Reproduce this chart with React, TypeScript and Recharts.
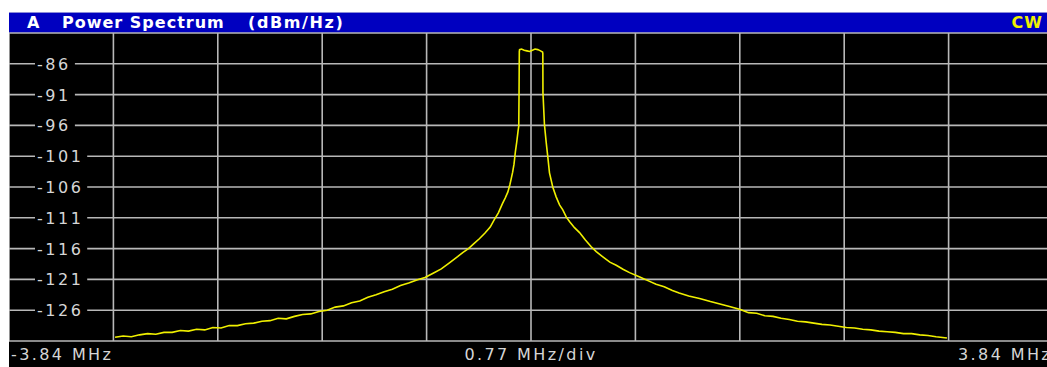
import { LineChart, Line, XAxis, YAxis, CartesianGrid } from "recharts";

// trace (MHz offset from centre, dBm/Hz)
const freqMHz = [
  -3.06, -3.0, -2.94, -2.88, -2.82, -2.76, -2.7, -2.64, -2.58, -2.52,
  -2.46, -2.4, -2.34, -2.28, -2.22, -2.16, -2.1, -2.04, -1.98, -1.92,
  -1.86, -1.8, -1.74, -1.68, -1.62, -1.56, -1.5, -1.44, -1.38, -1.32,
  -1.26, -1.2, -1.14, -1.08, -1.02, -0.96, -0.9, -0.84, -0.78, -0.72,
  -0.66, -0.6, -0.54, -0.5, -0.46, -0.42, -0.38, -0.34, -0.3, -0.27,
  -0.24, -0.21, -0.19, -0.17, -0.155, -0.145, -0.135, -0.125, -0.115, -0.105,
  -0.095, -0.09, -0.088, -0.086, -0.084,
  -0.07, -0.05, -0.03, -0.01, 0.01, 0.03, 0.05, 0.07, 0.085,
  0.087, 0.088, 0.099, 0.112, 0.124, 0.136, 0.16, 0.185, 0.21, 0.234,
  0.26, 0.283, 0.32, 0.357, 0.4, 0.443, 0.48, 0.526, 0.58, 0.627,
  0.68, 0.725, 0.8, 0.86, 0.92, 0.98, 1.04, 1.09, 1.16, 1.24,
  1.32, 1.39, 1.46, 1.54, 1.6, 1.66, 1.72, 1.78, 1.84, 1.9,
  1.96, 2.02, 2.08, 2.14, 2.2, 2.26, 2.32, 2.38, 2.44, 2.5,
  2.56, 2.62, 2.68, 2.74, 2.8, 2.86, 2.92, 2.98, 3.06,
];

const levelDbm = [
  -130.4, -130.2, -130.3, -130.0, -129.8, -129.9, -129.6, -129.6, -129.3, -129.4,
  -129.1, -129.2, -128.8, -128.9, -128.5, -128.5, -128.2, -128.1, -127.8, -127.7,
  -127.3, -127.4, -127.0, -126.7, -126.6, -126.2, -126.0, -125.5, -125.3, -124.8,
  -124.5, -123.9, -123.5, -123.0, -122.6, -122.0, -121.6, -121.1, -120.7, -120.0,
  -119.3, -118.3, -117.3, -116.6, -116.0, -115.2, -114.4, -113.5, -112.5, -111.3,
  -110.2, -108.7, -107.8, -106.8, -105.6, -104.6, -103.6, -102.3, -100.3, -98.7,
  -96.9, -96.1, -91.0, -84.0, -83.7,
  -83.6, -83.8, -83.9, -84.0, -83.8, -83.6, -83.7, -83.9, -84.1,
  -84.3, -90.7, -95.9, -98.8, -101.2, -103.7, -106.0, -107.6, -108.9, -109.7,
  -110.9, -111.6, -112.6, -113.4, -114.6, -115.7, -116.5, -117.3, -118.2, -118.7,
  -119.4, -119.9, -120.6, -121.2, -121.8, -122.2, -122.8, -123.2, -123.7, -124.1,
  -124.6, -125.0, -125.4, -125.9, -126.4, -126.5, -126.9, -127.0, -127.3, -127.5,
  -127.8, -127.9, -128.1, -128.3, -128.4, -128.6, -128.8, -128.9, -129.1, -129.2,
  -129.4, -129.5, -129.6, -129.8, -129.8, -130.0, -130.1, -130.3, -130.5,
];

const levelTicks = [-131, -126, -121, -116, -111, -106, -101, -96, -91, -86, -81];
const freqTicks = [-3.072, -2.304, -1.536, -0.768, 0, 0.768, 1.536, 2.304, 3.072];
const span = [-3.84, 3.84];
const footer = ["-3.84 MHz", "0.77 MHz/div", "3.84 MHz"];

const data = freqMHz.map((f, i) => ({ f, level: levelDbm[i] }));

const font = "'DejaVu Sans', Verdana, sans-serif";
const gray = "#d6d6d6";

function renderLevelTick(props: any) {
  const { y, payload } = props;
  const v = payload.value;
  // top and bottom lines carry no label
  if (v === levelTicks[0] || v === levelTicks[levelTicks.length - 1]) return <g />;
  const label = String(v);
  return (
    <g>
      <rect x={26} y={y - 8} width={label.length * 12.3 + 3} height={16} fill="#000" />
      <text
        x={28}
        y={y + 6}
        fill={gray}
        fontSize={16}
        fontFamily={font}
        style={{ letterSpacing: 2.5 }}
      >
        {label}
      </text>
    </g>
  );
}

export default function App() {
  return (
    <div
      style={{
        position: "absolute",
        left: 0,
        top: 0,
        width: 1047,
        height: 367,
        overflow: "hidden",
        background: "#fff",
        fontFamily: font,
      }}
    >
      {/* title bar */}
      <div
        style={{
          position: "absolute",
          left: 9,
          top: 12,
          width: 1038,
          height: 21,
          background: "#0000c0",
          borderTop: "1px solid #8c8cd8",
          boxSizing: "border-box",
          color: "#fff",
          fontWeight: "bold",
          fontSize: 16,
          lineHeight: "20px",
          letterSpacing: 1,
        }}
      >
        <span style={{ position: "absolute", left: 18 }}>A</span>
        <span style={{ position: "absolute", left: 53 }}>Power Spectrum</span>
        <span style={{ position: "absolute", left: 239, letterSpacing: 1.6 }}>(dBm/Hz)</span>
        <span style={{ position: "absolute", right: 4, color: "#f0f000" }}>CW</span>
      </div>

      {/* screen background */}
      <div style={{ position: "absolute", left: 9, top: 33, width: 1038, height: 334, background: "#000" }} />

      <div style={{ position: "absolute", left: 9, top: 31 }}>
        <LineChart width={1044} height={312} data={data} margin={{ top: 2, right: 0, bottom: 2, left: 0 }}>
          <CartesianGrid stroke="#b8b8b8" strokeWidth={1.6} fill="none" />
          <XAxis dataKey="f" type="number" domain={span} ticks={freqTicks} allowDataOverflow hide />
          <YAxis
            type="number"
            domain={[levelTicks[0], levelTicks[levelTicks.length - 1]]}
            ticks={levelTicks}
            mirror
            width={60}
            axisLine={false}
            tickLine={false}
            tick={renderLevelTick}
            interval={0}
          />
          <Line
            type="linear"
            dataKey="level"
            stroke="#f0f000"
            strokeWidth={1.6}
            dot={false}
            isAnimationActive={false}
          />
        </LineChart>
      </div>

      {/* footer */}
      <div style={{ position: "absolute", left: 9, top: 343, width: 1038, height: 24, color: gray, fontSize: 16, letterSpacing: 2.4, lineHeight: "24px" }}>
        <span style={{ position: "absolute", left: 2 }}>{footer[0]}</span>
        <span style={{ position: "absolute", left: 522, transform: "translateX(-50%)", whiteSpace: "nowrap" }}>{footer[1]}</span>
        <span style={{ position: "absolute", left: 949, whiteSpace: "nowrap" }}>{footer[2]}</span>
      </div>
    </div>
  );
}
